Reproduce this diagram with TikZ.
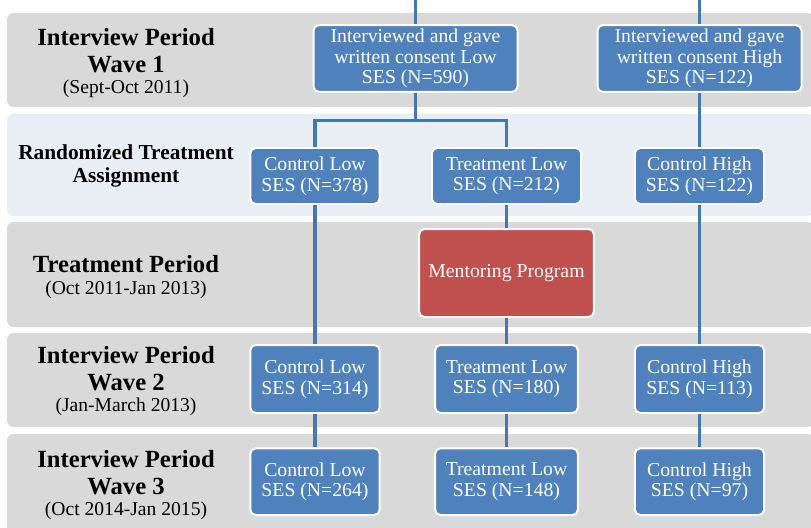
\documentclass[tikz,border=0pt]{standalone}
\usepackage{fontspec}
\setmainfont{Liberation Serif}
\usepackage{tikz}
\usetikzlibrary{positioning}

\definecolor{bandgray}{HTML}{D9D9D9}
\definecolor{bandblue}{HTML}{E9EDF4}
\definecolor{sesblue}{HTML}{4F81BD}
\definecolor{linkblue}{HTML}{4577B3}
\definecolor{mentorred}{HTML}{C0504D}
\newcommand{\hdfont}{\fontsize{18.5}{20}\selectfont\bfseries}
\newcommand{\subfont}{\fontsize{14.7}{16}\selectfont\mdseries}

\begin{document}
\begin{tikzpicture}[
  x=0.75pt, y=-0.75pt,
  node distance=25pt and 40pt,
  band/.style={fill=bandgray, rounded corners=5pt},
  ses/.style={draw=white, line width=1.5pt, fill=sesblue, rounded corners=4pt, text=white, minimum width=97pt, minimum height=50pt, align=center, inner sep=2pt, font=\fontsize{14.8}{15.5}\selectfont},
  period/.style={align=center, font=\hdfont},
  link/.style={draw=linkblue, line width=2.4pt}
]
\useasboundingbox (0,0) rectangle (811,528);
\clip (0,0) rectangle (811,528);

% period bands
\fill[band] (7,13) rectangle (814,107);
\fill[band, fill=bandblue] (7,114) rectangle (814,216);
\fill[band] (7,222) rectangle (814,327);
\fill[band] (7,333) rectangle (814,427);
\fill[band] (7,434) rectangle (814,545);

% period labels
\node[period] (lblW1) at (126,63) {Interview Period\\Wave 1\\[-4pt]{\subfont (Sept-Oct 2011)}};
\node[period, font=\fontsize{16}{17.25}\selectfont\bfseries] (lblRand) at (126,166) {Randomized Treatment\\Assignment};
\node[period] (lblTreat) at (126,277) {Treatment Period\\[-4pt]{\subfont (Oct 2011-Jan 2013)}};
\node[period] (lblW2) at (126,381) {Interview Period\\Wave 2\\[-4pt]{\subfont (Jan-March 2013)}};
\node[period] (lblW3) at (126,485) {Interview Period\\Wave 3\\[-4pt]{\subfont (Oct 2014-Jan 2015)}};

% wave 1
\node[ses, minimum width=153pt] (w1low) at (415.5,58.5) {Interviewed and gave\\written consent Low\\SES (N=590)};
\node[ses, minimum width=153pt] (w1high) at (699.5,58.5) {Interviewed and gave\\written consent High\\SES (N=122)};

% randomized assignment
\node[ses, minimum height=42pt] (raLow) at (315,176) {Control Low\\SES (N=378)};
\node[ses, minimum width=112pt, minimum height=42pt] (raTreat) at (506.5,176) {Treatment Low\\SES (N=212)};
\node[ses, minimum height=42pt] (raHigh) at (699.5,176) {Control High\\SES (N=122)};

% treatment period
\node[ses, fill=mentorred, minimum width=131pt, minimum height=66pt] (mentor) at (506.5,273) {Mentoring Program};

% wave 2
\node[ses, minimum height=51pt] (w2low) at (315,379) {Control Low\\SES (N=314)};
\node[ses, minimum width=107pt, minimum height=51pt] (w2treat) at (506.5,379) {Treatment Low\\SES (N=180)};
\node[ses, minimum height=51pt] (w2high) at (699.5,379) {Control High\\SES (N=113)};

% wave 3
\node[ses, below=of w2low] (w3low) {Control Low\\SES (N=264)};
\node[ses, minimum width=107pt, below=of w2treat] (w3treat) {Treatment Low\\SES (N=148)};
\node[ses, below=of w2high] (w3high) {Control High\\SES (N=97)};

% connectors
\coordinate (origin) at (0,0);
\coordinate (topLow) at (w1low.north |- origin);
\coordinate (topHigh) at (w1high.north |- origin);
\draw[link] (topLow) -- (w1low.north);
\draw[link] (topHigh) -- (w1high.north);
\draw[link] (w1low.south) -- ++(0,28) coordinate (split);
\draw[link] (split) -| (raLow.north);
\draw[link] (split) -| (raTreat.north);
\draw[link] (w1high) -- (raHigh);
\draw[link] (raLow) -- (w2low);
\draw[link] (raTreat) -- (mentor);
\draw[link] (mentor) -- (w2treat);
\draw[link] (raHigh) -- (w2high);
\draw[link] (w2low) -- (w3low);
\draw[link] (w2treat) -- (w3treat);
\draw[link] (w2high) -- (w3high);
\end{tikzpicture}
\end{document}
